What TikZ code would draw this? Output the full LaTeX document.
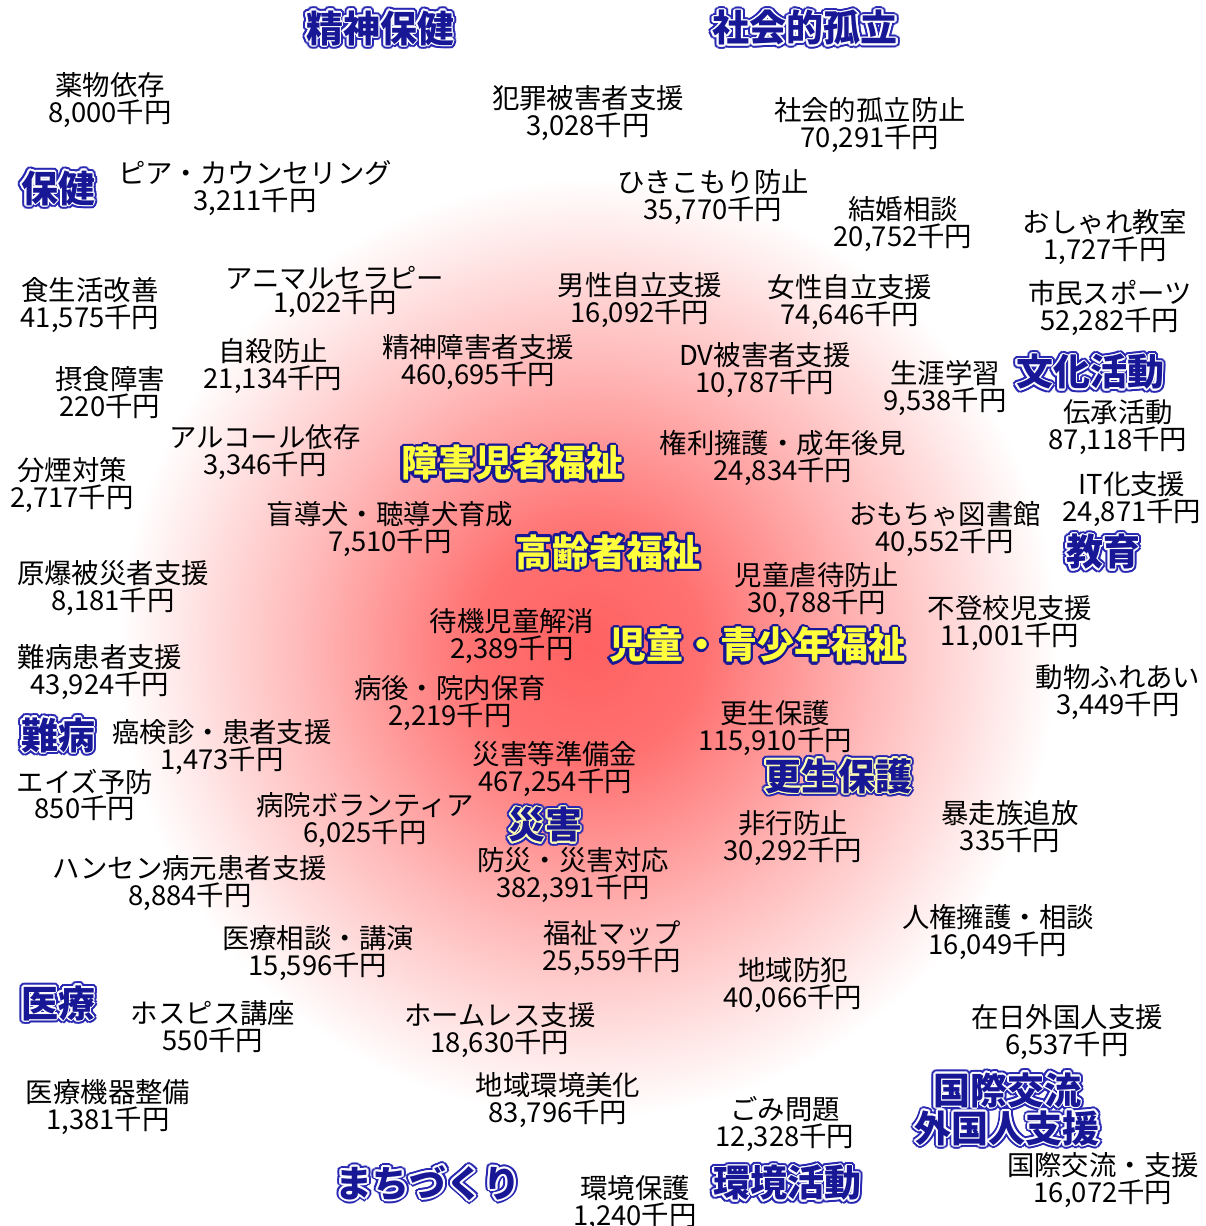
\documentclass[tikz,border=0pt]{standalone}
\usepackage{fontspec}
\usepackage{tikz}
\usetikzlibrary{shadings}
\newfontfamily\jp{Noto Sans CJK JP}
\definecolor{catblue}{RGB}{24,24,150}
\definecolor{haloblue}{RGB}{40,40,178}
\definecolor{paleyellow}{RGB}{255,255,180}
\definecolor{catyellow}{RGB}{255,255,60}
\pgfdeclareradialshading{glow}{\pgfpoint{0bp}{0bp}}{color(0bp)=(red!62); color(3bp)=(red!56); color(7.5bp)=(red!28); color(12.5bp)=(white); color(50bp)=(white)}
\tikzset{
	budget/.style={font=\jp\fontsize{13.7}{12}\selectfont,align=center,inner sep=0pt},
	cat/.style={font=\jp\bfseries\fontsize{18.5}{19}\selectfont,align=center,inner sep=0pt}
}
% blue heading: halo, rim, fill
\newcommand{\bluecat}[4]{%
	\foreach \a in {0,22.5,...,337.5}
		\node[cat,text=haloblue,shift={(\a:1.9pt)}] at #2 {#4};
	\foreach \a in {0,30,...,330}
		\node[cat,text=#3,shift={(\a:0.9pt)}] at #2 {#4};
	\node[cat,text=catblue] (#1) at #2 {#4};
}
% yellow heading in the middle
\newcommand{\yellowcat}[3]{%
	\foreach \a in {0,22.5,...,337.5}
		\node[cat,text=catblue,shift={(\a:1.2pt)}] at #2 {#3};
	\node[cat,text=catyellow] (#1) at #2 {#3};
}

\begin{document}
\begin{tikzpicture}[x=0.5pt,y=-0.5pt]
	\useasboundingbox (0,0) rectangle (1205,1226);
	\fill[white] (-20,-20) rectangle (1225,1246);
	\begin{scope}
		\clip (-20,-20) rectangle (1225,1246);
		\fill[shading=glow] (588,648) circle (940);
	\end{scope}

	% headings
	\bluecat{c1}{(380,28)}{white}{精神保健}
	\bluecat{c2}{(805,28)}{white}{社会的孤立}
	\bluecat{c3}{(58,188)}{white}{保健}
	\bluecat{c4}{(1090,372)}{white}{文化活動}
	\bluecat{c5}{(1103,552)}{white}{教育}
	\bluecat{c6}{(58,735)}{white}{難病}
	\bluecat{c7}{(838,776)}{paleyellow}{更生保護}
	\bluecat{c8}{(545,825)}{paleyellow}{災害}
	\bluecat{c9}{(58,1003)}{white}{医療}
	\bluecat{c10}{(428,1183)}{white}{まちづくり}
	\bluecat{c11}{(787,1183)}{white}{環境活動}
	\bluecat{c12}{(1007,1109)}{white}{国際交流\\外国人支援}
	\yellowcat{c13}{(512,463)}{障害児者福祉}
	\yellowcat{c14}{(608,552)}{高齢者福祉}
	\yellowcat{c15}{(757,645)}{児童・青少年福祉}

	% budget items
	\node[budget] (1) at (110,100) {薬物依存\\8,000千円};
	\node[budget] (2) at (588,113) {犯罪被害者支援\\3,028千円};
	\node[budget] (3) at (870,125) {社会的孤立防止\\70,291千円};
	\node[budget] (4) at (255,188) {ピア・カウンセリング\\3,211千円};
	\node[budget] (5) at (713,197) {ひきこもり防止\\35,770千円};
	\node[budget] (6) at (903,224) {結婚相談\\20,752千円};
	\node[budget] (7) at (1105,237) {おしゃれ教室\\1,727千円};
	\node[budget] (8) at (90,305) {食生活改善\\41,575千円};
	\node[budget] (9) at (335,292) {アニマルセラピー\\1,022千円};
	\node[budget] (10) at (640,300) {男性自立支援\\16,092千円};
	\node[budget] (11) at (850,302) {女性自立支援\\74,646千円};
	\node[budget] (12) at (1110,308) {市民スポーツ\\52,282千円};
	\node[budget] (13) at (273,366) {自殺防止\\21,134千円};
	\node[budget] (14) at (478,362) {精神障害者支援\\460,695千円};
	\node[budget] (15) at (765,370) {DV被害者支援\\10,787千円};
	\node[budget] (16) at (110,393) {摂食障害\\220千円};
	\node[budget] (17) at (945,388) {生涯学習\\9,538千円};
	\node[budget] (18) at (1118,427) {伝承活動\\87,118千円};
	\node[budget] (19) at (265,452) {アルコール依存\\3,346千円};
	\node[budget] (20) at (783,458) {権利擁護・成年後見\\24,834千円};
	\node[budget] (21) at (72,485) {分煙対策\\2,717千円};
	\node[budget] (22) at (1132,499) {IT化支援\\24,871千円};
	\node[budget] (23) at (390,529) {盲導犬・聴導犬育成\\7,510千円};
	\node[budget] (24) at (945,529) {おもちゃ図書館\\40,552千円};
	\node[budget] (25) at (113,588) {原爆被災者支援\\8,181千円};
	\node[budget] (26) at (817,590) {児童虐待防止\\30,788千円};
	\node[budget] (27) at (1010,623) {不登校児支援\\11,001千円};
	\node[budget] (28) at (512,636) {待機児童解消\\2,389千円};
	\node[budget] (29) at (100,672) {難病患者支援\\43,924千円};
	\node[budget] (30) at (1118,692) {動物ふれあい\\3,449千円};
	\node[budget] (31) at (450,703) {病後・院内保育\\2,219千円};
	\node[budget] (32) at (775,728) {更生保護\\115,910千円};
	\node[budget] (33) at (222,747) {癌検診・患者支援\\1,473千円};
	\node[budget] (34) at (555,769) {災害等準備金\\467,254千円};
	\node[budget] (35) at (85,795) {エイズ予防\\850千円};
	\node[budget] (36) at (365,820) {病院ボランティア\\6,025千円};
	\node[budget] (37) at (1010,827) {暴走族追放\\335千円};
	\node[budget] (38) at (793,838) {非行防止\\30,292千円};
	\node[budget] (39) at (190,883) {ハンセン病元患者支援\\8,884千円};
	\node[budget] (40) at (573,875) {防災・災害対応\\382,391千円};
	\node[budget] (41) at (998,932) {人権擁護・相談\\16,049千円};
	\node[budget] (42) at (318,953) {医療相談・講演\\15,596千円};
	\node[budget] (43) at (612,948) {福祉マップ\\25,559千円};
	\node[budget] (44) at (793,985) {地域防犯\\40,066千円};
	\node[budget] (45) at (213,1027) {ホスピス講座\\550千円};
	\node[budget] (46) at (500,1030) {ホームレス支援\\18,630千円};
	\node[budget] (47) at (1067,1032) {在日外国人支援\\6,537千円};
	\node[budget] (48) at (108,1107) {医療機器整備\\1,381千円};
	\node[budget] (49) at (558,1100) {地域環境美化\\83,796千円};
	\node[budget] (50) at (785,1124) {ごみ問題\\12,328千円};
	\node[budget] (51) at (1103,1180) {国際交流・支援\\16,072千円};
	\node[budget] (52) at (635,1203) {環境保護\\1,240千円};
\end{tikzpicture}
\end{document}
